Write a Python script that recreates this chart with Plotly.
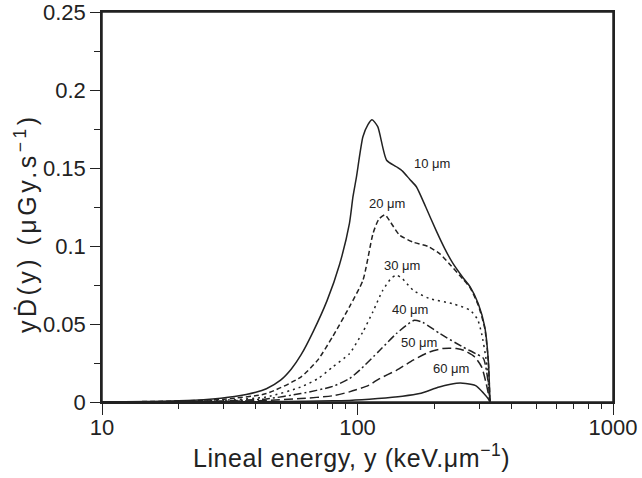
import math
import plotly.graph_objects as go

# Lineal energy (keV/um) sample points and y*D(y) values (uGy/s) per site size
x_10um = [10, 15, 20, 25, 33, 40, 44, 50, 55, 60, 67, 76, 85, 93, 96, 99, 105, 110, 114, 120, 130, 142, 150, 160, 170, 185, 203, 220, 236, 258, 276, 297, 315, 325, 330]
y_10um = [0, 0.0003, 0.0008, 0.0015, 0.0035, 0.0062, 0.0085, 0.014, 0.021, 0.030, 0.045, 0.065, 0.088, 0.1145, 0.1316, 0.144, 0.170, 0.178, 0.181, 0.1765, 0.155, 0.1508, 0.148, 0.1428, 0.138, 0.125, 0.11, 0.098, 0.089, 0.080, 0.0738, 0.063, 0.048, 0.027, 0]

x_20um = [10, 20, 30, 44, 60, 70, 80, 93, 105, 115, 121, 128, 135, 146, 165, 190, 210, 229, 258, 276, 297, 315, 325, 330]
y_20um = [0, 0.0006, 0.0018, 0.0054, 0.016, 0.027, 0.042, 0.061, 0.078, 0.108, 0.117, 0.12, 0.115, 0.107, 0.1025, 0.0995, 0.095, 0.0885, 0.079, 0.0732, 0.062, 0.047, 0.026, 0]

x_30um = [10, 20, 30, 44, 60, 70, 80, 93, 105, 115, 125, 135, 142, 150, 165, 191, 236, 276, 295, 306, 319, 330]
y_30um = [0, 0.0003, 0.0011, 0.0032, 0.0096, 0.015, 0.0225, 0.031, 0.045, 0.058, 0.071, 0.079, 0.0813, 0.079, 0.0717, 0.0664, 0.063, 0.0588, 0.053, 0.0439, 0.0268, 0]

x_40um = [10, 20, 30, 44, 60, 80, 93, 102, 122, 142, 155, 167, 180, 210, 258, 290, 311, 325, 330]
y_40um = [0, 0.0002, 0.0007, 0.002, 0.0054, 0.01, 0.015, 0.0204, 0.033, 0.0439, 0.049, 0.0524, 0.051, 0.0439, 0.0353, 0.031, 0.028, 0.012, 0]

x_50um = [10, 20, 30, 44, 60, 80, 93, 110, 122, 142, 165, 191, 216, 244, 260, 287, 306, 319, 330]
y_50um = [0, 0.0001, 0.0004, 0.001, 0.0022, 0.004, 0.0065, 0.0105, 0.015, 0.0203, 0.0268, 0.032, 0.0343, 0.0343, 0.0332, 0.029, 0.0225, 0.0118, 0]

x_60um = [10, 30, 50, 80, 93, 120, 150, 175, 209, 244, 265, 290, 311, 325, 330]
y_60um = [0, 0.0001, 0.0003, 0.0008, 0.001, 0.0022, 0.0037, 0.0054, 0.0096, 0.012, 0.0119, 0.0105, 0.0058, 0.002, 0]

labels = ["10 \u03bcm", "20 \u03bcm", "30 \u03bcm", "40 \u03bcm", "50 \u03bcm", "60 \u03bcm"]
label_x = [196, 130, 149, 160, 174, 233]
label_y = [0.1532, 0.1275, 0.0877, 0.0590, 0.0383, 0.0216]

x_ticks = [10, 100, 1000]
x_minor = [20, 30, 40, 50, 60, 70, 80, 90, 200, 300, 400, 500, 600, 700, 800, 900]
y_ticks = [0, 0.05, 0.1, 0.15, 0.2, 0.25]
y_ticktext = ["0", "0.05", "0.1", "0.15", "0.2", "0.25"]

x_title = "Lineal energy, y (keV.\u03bcm<sup>\u22121</sup>)"
y_title = "y\u1e0a(y) (\u03bcGy.s<sup>\u22121</sup>)"

INK = "#222222"
FONT = "Liberation Sans, Arial, sans-serif"

series = [
    (x_10um, y_10um, "solid"),
    (x_20um, y_20um, "5px,3px"),
    (x_30um, y_30um, "2px,4px"),
    (x_40um, y_40um, "8px,3px,2px,3px"),
    (x_50um, y_50um, "9px,4px"),
    (x_60um, y_60um, "solid"),
]

fig = go.Figure()
for (xs, ys, dash), name in zip(series, labels):
    fig.add_trace(go.Scatter(
        x=xs, y=ys, mode="lines", name=name,
        line=dict(color=INK, width=1.5, dash=dash, shape="spline", smoothing=0.6),
        showlegend=False, hoverinfo="skip",
    ))

for t, lx, ly in zip(labels, label_x, label_y):
    fig.add_annotation(x=math.log10(lx), y=ly, xref="x", yref="y", text=t, showarrow=False,
                       font=dict(family=FONT, size=13, color=INK))

# axis titles
fig.add_annotation(x=0.489, y=-0.138, xref="paper", yref="paper", text=x_title, showarrow=False,
                   xanchor="center", yanchor="middle", font=dict(family=FONT, size=25, color=INK))
fig.add_annotation(x=-0.149, y=0.459, xref="paper", yref="paper", text=y_title, showarrow=False,
                   textangle=-90, xanchor="center", yanchor="middle", font=dict(family=FONT, size=25, color=INK))

# plot frame
fig.add_shape(type="rect", xref="paper", yref="paper", x0=0, y0=0, x1=1, y1=1,
              line=dict(color=INK, width=1.5), layer="above")

fig.update_layout(
    width=642, height=478,
    margin=dict(l=102, r=29, t=12, b=76, autoexpand=False),
    paper_bgcolor="white", plot_bgcolor="white",
    font=dict(family=FONT, color=INK),
)
fig.update_xaxes(
    type="log", range=[1, 3], automargin=False, ticklabeloverflow="allow",
    tickmode="array", tickvals=x_ticks, ticktext=[str(v) for v in x_ticks],
    ticks="outside", ticklen=11, tickwidth=1.3, tickcolor=INK,
    ticklabelstandoff=-6,
    minor=dict(tickmode="array", tickvals=x_minor, ticks="outside", ticklen=5, tickwidth=1.2, tickcolor=INK, showgrid=False),
    showline=True, linecolor=INK, linewidth=1.5, mirror=True,
    showgrid=False, zeroline=False,
    tickfont=dict(family=FONT, size=22, color=INK),
)
fig.update_yaxes(
    range=[0, 0.25], automargin=False, ticklabeloverflow="allow",
    tickmode="array", tickvals=y_ticks, ticktext=y_ticktext,
    ticks="outside", ticklen=10, tickwidth=1.3, tickcolor=INK,
    minor=dict(dtick=0.025, ticks="outside", ticklen=6, tickwidth=1.2, tickcolor=INK, showgrid=False),
    showline=True, linecolor=INK, linewidth=1.5, mirror=True,
    showgrid=False, zeroline=False,
    tickfont=dict(family=FONT, size=22, color=INK),
)

post = """
document.documentElement.style.margin = '0';
document.documentElement.style.padding = '0';
document.documentElement.style.overflow = 'hidden';
document.body.style.margin = '0';
document.body.style.padding = '0';
document.body.style.overflow = 'hidden';
var gd = document.getElementsByClassName('plotly-graph-div')[0];
if (gd) { gd.style.position = 'absolute'; gd.style.left = '0px'; gd.style.top = '0px'; }
function spaceTitles() {
  document.querySelectorAll('text.annotation-text').forEach(function (t) {
    var s = t.textContent || '';
    if (s.indexOf('Gy.s') >= 0) { t.style.letterSpacing = '3.5px'; }
    if (s.indexOf('Lineal') >= 0) { t.style.letterSpacing = '0.6px'; }
  });
}
spaceTitles();
setTimeout(spaceTitles, 50);
setTimeout(spaceTitles, 300);
"""

fig.write_html("out.html", post_script=post, config={"displayModeBar": False})
